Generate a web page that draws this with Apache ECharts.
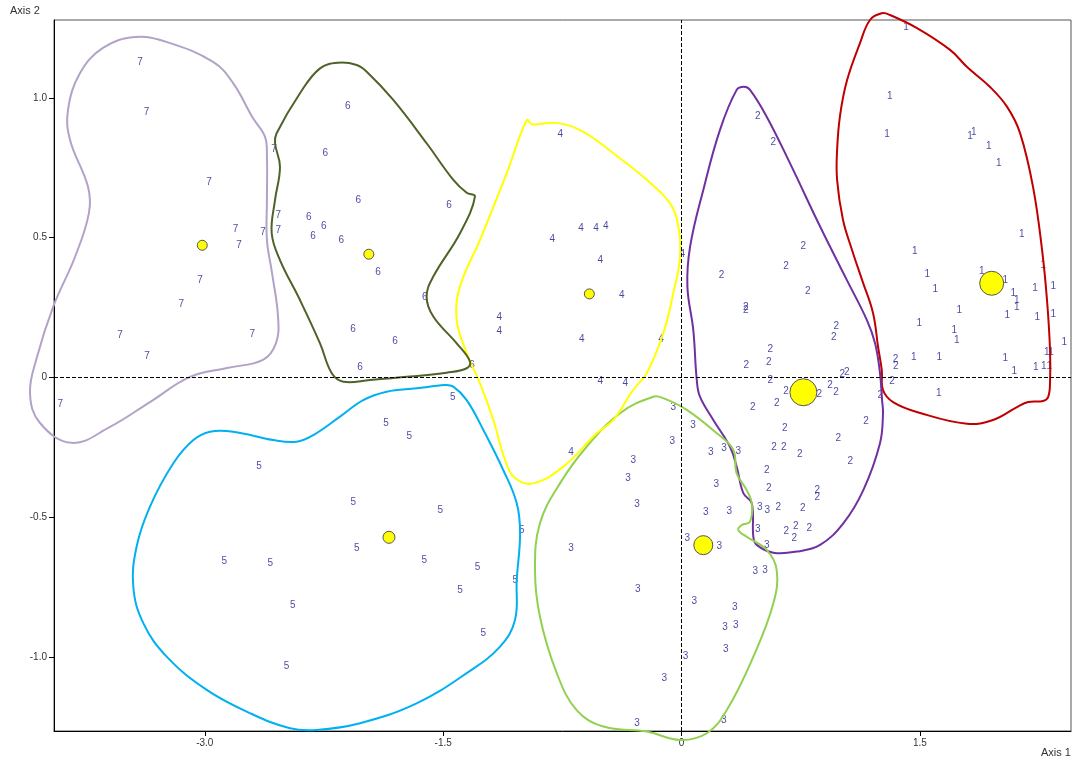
<!DOCTYPE html>
<html>
<head>
<meta charset="utf-8">
<script src="https://cdn.jsdelivr.net/npm/echarts@6/dist/echarts.min.js"></script>
<style>
  html, body { margin: 0; padding: 0; background: #fff; }
  #chart { width: 1074px; height: 762px; }
</style>
</head>
<body>
<div id="chart"></div>
<script>
// Axis ticks
const xTicks = [-3.0, -1.5, 0, 1.5];
const yTicks = [-1.0, -0.5, 0, 0.5, 1.0];
const groupNames = ['1', '2', '3', '4', '5', '6', '7'];

// Site scores per group (Axis 1, Axis 2)
const points1 = [[1.413,1.253],[1.310,1.005],[1.293,0.871],[1.816,0.864],[1.839,0.879],[1.933,0.829],[1.996,0.766],[2.141,0.511],[1.468,0.453],[2.277,0.403],[1.889,0.379],[2.038,0.349],[1.547,0.368],[1.597,0.314],[2.088,0.301],[2.110,0.277],[2.110,0.251],[2.225,0.320],[2.340,0.325],[2.050,0.223],[2.239,0.214],[2.340,0.225],[1.748,0.240],[1.497,0.194],[1.717,0.170],[1.732,0.133],[2.409,0.125],[2.298,0.091],[2.325,0.091],[1.461,0.074],[1.622,0.074],[2.038,0.069],[2.094,0.021],[2.229,0.035],[2.279,0.041],[2.315,0.039],[1.619,-0.057]];
const points2 = [[0.480,0.935],[0.578,0.842],[0.767,0.471],[0.658,0.399],[0.251,0.364],[0.794,0.308],[0.404,0.250],[0.404,0.242],[0.974,0.185],[0.958,0.145],[0.559,0.102],[0.408,0.044],[0.549,0.053],[1.012,0.010],[1.040,0.017],[0.559,-0.011],[0.658,-0.048],[0.935,-0.029],[0.972,-0.053],[0.867,-0.060],[0.599,-0.091],[0.448,-0.105],[1.346,0.065],[1.348,0.039],[1.325,-0.014],[1.251,-0.064],[1.161,-0.155],[0.650,-0.181],[0.987,-0.218],[0.582,-0.251],[0.643,-0.248],[0.744,-0.273],[1.062,-0.300],[0.536,-0.331],[0.549,-0.396],[0.855,-0.403],[0.855,-0.427],[0.609,-0.466],[0.763,-0.469],[0.660,-0.552],[0.719,-0.534],[0.710,-0.575],[0.804,-0.540]];
const points3 = [[-0.052,-0.108],[0.072,-0.170],[-0.058,-0.227],[-0.303,-0.295],[0.184,-0.266],[0.267,-0.253],[0.357,-0.263],[-0.337,-0.359],[0.219,-0.381],[-0.280,-0.452],[0.152,-0.482],[0.301,-0.480],[0.492,-0.464],[0.540,-0.474],[0.480,-0.543],[-0.695,-0.610],[0.037,-0.575],[0.238,-0.604],[0.536,-0.602],[0.464,-0.692],[0.525,-0.690],[-0.276,-0.758],[0.081,-0.799],[0.335,-0.821],[0.274,-0.892],[0.341,-0.888],[0.278,-0.974],[0.026,-0.999],[-0.108,-1.075],[-0.280,-1.237],[0.266,-1.225]];
const points4 = [[-0.763,0.871],[-0.633,0.534],[-0.538,0.534],[-0.477,0.540],[-0.813,0.496],[-0.511,0.418],[-0.376,0.295],[-1.147,0.214],[-1.147,0.164],[-0.628,0.135],[-0.129,0.137],[0.005,0.441],[-0.511,-0.015],[-0.354,-0.019],[-0.695,-0.269]];
const points5 = [[-1.440,-0.071],[-1.860,-0.164],[-1.713,-0.209],[-2.659,-0.318],[-2.066,-0.448],[-1.518,-0.474],[-1.006,-0.545],[-2.044,-0.611],[-1.619,-0.653],[-2.877,-0.656],[-2.588,-0.665],[-1.283,-0.679],[-1.046,-0.725],[-1.394,-0.760],[-2.447,-0.815],[-1.247,-0.914],[-2.485,-1.035]];
const points6 = [[-2.101,0.972],[-2.242,0.801],[-2.034,0.633],[-1.463,0.616],[-2.346,0.572],[-2.252,0.540],[-2.319,0.507],[-2.141,0.492],[-1.910,0.376],[-1.616,0.286],[-2.067,0.171],[-1.803,0.130],[-2.023,0.037],[-1.318,0.045]];
const points7 = [[-3.408,1.128],[-3.366,0.949],[-2.974,0.700],[-2.565,0.818],[-2.537,0.579],[-2.806,0.530],[-2.634,0.518],[-2.537,0.525],[-2.785,0.473],[-3.030,0.349],[-3.148,0.261],[-3.534,0.152],[-2.701,0.155],[-3.364,0.076],[-3.909,-0.096]];

// Group centroids
const centroids = [[1.952,0.337],[0.767,-0.053],[0.137,-0.600],[-0.580,0.299],[-1.841,-0.572],[-1.968,0.441],[-3.016,0.473]];

// Group envelopes (closed outlines)
const contour1 = [[1.260,1.303],[1.312,1.297],[1.482,1.250],[1.690,1.172],[1.797,1.111],[1.942,1.039],[2.049,0.968],[2.130,0.875],[2.212,0.682],[2.269,0.456],[2.300,0.277],[2.319,0.098],[2.319,-0.020],[2.307,-0.070],[2.275,-0.084],[2.181,-0.088],[2.111,-0.106],[1.960,-0.152],[1.797,-0.166],[1.501,-0.127],[1.331,-0.088],[1.268,-0.045],[1.260,0.027],[1.237,0.109],[1.205,0.231],[1.136,0.349],[1.073,0.456],[1.016,0.564],[0.979,0.707],[0.979,0.814],[0.998,0.939],[1.042,1.064],[1.123,1.196],[1.186,1.279]];
const contour2 = [[0.393,1.040],[0.431,1.029],[0.536,0.933],[0.683,0.766],[0.872,0.540],[1.040,0.349],[1.166,0.206],[1.218,0.122],[1.249,0.015],[1.262,-0.081],[1.268,-0.127],[1.249,-0.235],[1.144,-0.403],[1.018,-0.522],[0.872,-0.599],[0.725,-0.623],[0.578,-0.627],[0.473,-0.599],[0.452,-0.570],[0.442,-0.450],[0.389,-0.414],[0.347,-0.319],[0.305,-0.248],[0.200,-0.152],[0.116,-0.069],[0.096,-0.009],[0.074,0.170],[0.037,0.325],[0.054,0.468],[0.137,0.671],[0.242,0.886],[0.347,1.029]];
const contour3 = [[-0.178,-0.069],[-0.387,-0.128],[-0.597,-0.248],[-0.765,-0.379],[-0.891,-0.522],[-0.922,-0.689],[-0.891,-0.856],[-0.785,-1.058],[-0.660,-1.190],[-0.492,-1.249],[-0.219,-1.267],[-0.009,-1.297],[0.159,-1.273],[0.285,-1.190],[0.452,-0.999],[0.578,-0.808],[0.599,-0.689],[0.536,-0.617],[0.410,-0.570],[0.358,-0.546],[0.379,-0.528],[0.431,-0.516],[0.442,-0.450],[0.410,-0.403],[0.347,-0.343],[0.326,-0.259],[0.222,-0.200],[0.033,-0.116],[-0.115,-0.074]];
const contour4 = [[-0.974,0.921],[-0.943,0.906],[-0.775,0.910],[-0.618,0.879],[-0.429,0.802],[-0.219,0.707],[-0.072,0.623],[-0.020,0.540],[-0.009,0.432],[-0.052,0.301],[-0.115,0.158],[-0.219,0.015],[-0.305,-0.045],[-0.429,-0.152],[-0.534,-0.200],[-0.744,-0.319],[-0.933,-0.379],[-1.048,-0.360],[-1.111,-0.295],[-1.184,-0.152],[-1.268,-0.021],[-1.352,0.087],[-1.415,0.206],[-1.394,0.325],[-1.268,0.492],[-1.100,0.731]];
const contour5 = [[-1.488,-0.027],[-1.667,-0.039],[-1.855,-0.051],[-2.003,-0.081],[-2.149,-0.140],[-2.317,-0.206],[-2.422,-0.230],[-2.569,-0.224],[-2.821,-0.194],[-2.967,-0.194],[-3.072,-0.224],[-3.198,-0.307],[-3.345,-0.462],[-3.429,-0.605],[-3.450,-0.749],[-3.387,-0.879],[-3.240,-0.999],[-2.988,-1.118],[-2.716,-1.201],[-2.464,-1.255],[-2.296,-1.261],[-2.023,-1.237],[-1.667,-1.166],[-1.352,-1.058],[-1.142,-0.963],[-1.048,-0.868],[-1.037,-0.725],[-1.016,-0.557],[-1.037,-0.450],[-1.122,-0.331],[-1.247,-0.188],[-1.352,-0.081],[-1.436,-0.033]];
const contour6 = [[-2.160,1.126],[-2.275,1.106],[-2.401,1.017],[-2.548,0.874],[-2.558,0.838],[-2.527,0.754],[-2.558,0.635],[-2.579,0.516],[-2.527,0.420],[-2.401,0.277],[-2.275,0.122],[-2.201,0.015],[-2.128,-0.015],[-1.960,-0.009],[-1.709,0.003],[-1.478,0.017],[-1.352,0.033],[-1.331,0.057],[-1.415,0.122],[-1.562,0.218],[-1.604,0.289],[-1.562,0.361],[-1.394,0.516],[-1.300,0.647],[-1.352,0.661],[-1.436,0.707],[-1.604,0.838],[-1.814,0.993],[-1.981,1.094],[-2.044,1.118]];
const contour7 = [[-3.861,0.957],[-3.785,1.089],[-3.641,1.179],[-3.439,1.218],[-3.238,1.200],[-2.948,1.129],[-2.823,1.054],[-2.697,0.928],[-2.621,0.861],[-2.609,0.789],[-2.609,0.635],[-2.609,0.492],[-2.577,0.374],[-2.539,0.216],[-2.552,0.123],[-2.634,0.063],[-2.860,0.034],[-3.093,0.002],[-3.345,-0.088],[-3.597,-0.177],[-3.836,-0.234],[-4.037,-0.163],[-4.100,-0.056],[-4.056,0.073],[-3.955,0.252],[-3.817,0.431],[-3.729,0.589],[-3.735,0.682],[-3.848,0.850]];

// Styling
const hullColors = ['#C00000', '#7030A0', '#92D050', '#FFFF00', '#00B0F0', '#4F6228', '#B3A2C7'];
const centroidSizes = [24, 27, 19, 10, 12, 10, 10];
const labelColor = '#1a1a88';

const pointSets = [points1, points2, points3, points4, points5, points6, points7];
const contours = [contour1, contour2, contour3, contour4, contour5, contour6, contour7];

const fmt = v => (v === 0 ? '0' : v.toFixed(1));

const chart = echarts.init(document.getElementById('chart'), null, { renderer: 'canvas' });

// Group number drawn at each site
const labelSeries = pointSets.map((pts, i) => ({
  type: 'scatter',
  name: 'Group ' + groupNames[i],
  data: pts,
  symbolSize: 2,
  itemStyle: { color: 'transparent' },
  label: {
    show: true,
    position: 'inside',
    formatter: groupNames[i],
    color: labelColor,
    fontSize: 10,
    fontFamily: 'Arial, "Liberation Sans", sans-serif'
  },
  z: 2,
  silent: true,
  animation: false
}));

// Smooth closed envelope around each group
const hullSeries = {
  type: 'custom',
  coordinateSystem: 'cartesian2d',
  clip: false,
  silent: true,
  z: 3,
  data: contours.map((c, i) => [c[0][0], c[0][1], i]),
  encode: { x: 0, y: 1 },
  renderItem(params, api) {
    const i = api.value(2);
    const pts = contours[i].map(p => api.coord(p));
    return {
      type: 'polygon',
      shape: { points: pts, smooth: 0.4 },
      style: { fill: 'none', stroke: hullColors[i], lineWidth: 2 }
    };
  },
  animation: false
};

// Centroids plus the dashed zero lines
const centroidSeries = {
  type: 'scatter',
  data: centroids.map((c, i) => ({ value: c, symbolSize: centroidSizes[i] })),
  itemStyle: { color: '#FFFF00', borderColor: '#555', borderWidth: 1, opacity: 1 },
  z: 5,
  silent: true,
  animation: false,
  markLine: {
    silent: true,
    symbol: ['none', 'none'],
    label: { show: false },
    lineStyle: { color: '#000', type: [4, 2], width: 1 },
    data: [{ xAxis: 0 }, { yAxis: 0 }],
    animation: false
  }
};

chart.setOption({
  backgroundColor: '#fff',
  animation: false,
  grid: {
    left: 54, top: 20, width: 1017, height: 711,
    show: true, borderColor: '#555', borderWidth: 1, backgroundColor: 'transparent'
  },
  xAxis: {
    type: 'value',
    min: -3.949, max: 2.451,
    splitLine: { show: false },
    axisLine: { show: true, onZero: false, lineStyle: { color: '#000', width: 1 } },
    axisTick: { show: true, customValues: xTicks, length: 5, lineStyle: { color: '#000' } },
    axisLabel: {
      customValues: xTicks, formatter: fmt, color: '#333', fontSize: 10,
      fontFamily: 'Arial, "Liberation Sans", sans-serif', margin: 7
    }
  },
  yAxis: {
    type: 'value',
    min: -1.265, max: 1.279,
    splitLine: { show: false },
    axisLine: { show: true, onZero: false, lineStyle: { color: '#000', width: 1 } },
    axisTick: { show: true, customValues: yTicks, length: 5, lineStyle: { color: '#000' } },
    axisLabel: {
      customValues: yTicks, formatter: fmt, color: '#333', fontSize: 10,
      fontFamily: 'Arial, "Liberation Sans", sans-serif', margin: 7
    }
  },
  graphic: [
    { type: 'text', left: 10, top: 5, style: { text: 'Axis 2', fill: '#333', font: '11px Arial, "Liberation Sans", sans-serif' } },
    { type: 'text', left: 1041, top: 747, style: { text: 'Axis 1', fill: '#333', font: '11px Arial, "Liberation Sans", sans-serif' } }
  ],
  series: [...labelSeries, hullSeries, centroidSeries]
});
</script>
</body>
</html>
